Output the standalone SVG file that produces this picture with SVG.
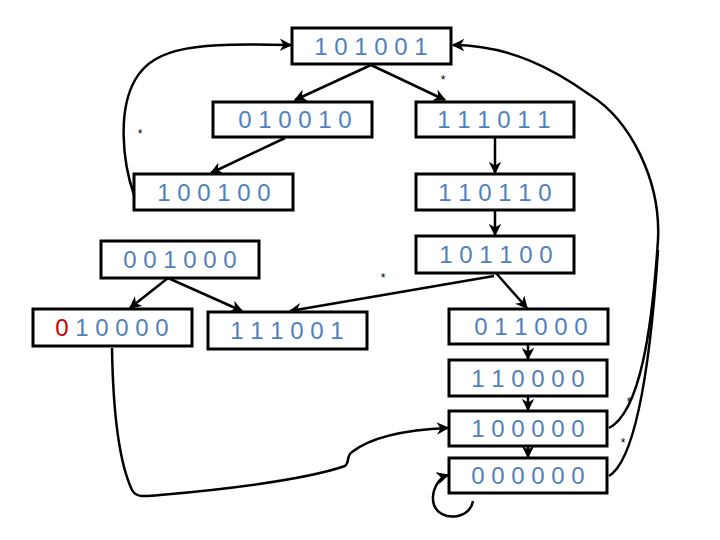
<svg xmlns="http://www.w3.org/2000/svg" width="720" height="540" viewBox="0 0 720 540">
<style>
.box{fill:#fff;stroke:#000;stroke-width:3}
.t{font-family:"Liberation Sans",Arial,sans-serif;font-size:24px;fill:#4F81BD;text-anchor:middle}
.e{fill:none;stroke:#000;stroke-width:2.5}
.s{font-family:"Liberation Sans",Arial,sans-serif;font-size:12px;fill:#000;text-anchor:middle}
</style>
<defs>
<marker id="a" viewBox="0 0 10 10" refX="9" refY="5" markerWidth="5" markerHeight="5" orient="auto" markerUnits="strokeWidth">
<path d="M0,0 L10,5 L0,10 L3,5 Z" fill="#000"/>
</marker>
</defs>
<rect width="720" height="540" fill="#fff"/>
<g id="connectors">
<path class="e" marker-end="url(#a)" d="M371,65 L295,100"/>
<path class="e" marker-end="url(#a)" d="M371,65 L445,100"/>
<path class="e" marker-end="url(#a)" d="M285,138 L211,173"/>
<path class="e" marker-end="url(#a)" d="M134,195 C122,160 118,110 135,80 C155,45 200,43 291,45"/>
<path class="e" marker-end="url(#a)" d="M495,137 L495,173"/>
<path class="e" marker-end="url(#a)" d="M495,210 L495,235"/>
<path class="e" marker-end="url(#a)" d="M496,273 L527,308"/>
<path class="e" marker-end="url(#a)" d="M494,276 L290,311"/>
<path class="e" marker-end="url(#a)" d="M168,278 L130,308"/>
<path class="e" marker-end="url(#a)" d="M168,278 L242,311"/>
<path class="e" marker-end="url(#a)" d="M528,344 L528,359"/>
<path class="e" marker-end="url(#a)" d="M528,396 L528,410"/>
<path class="e" marker-end="url(#a)" d="M528,446 L528,457"/>
<path class="e" marker-end="url(#a)" d="M112,348 C113,410 118,460 132,490 C136,497 142,497 160,495 C250,487 310,478 345,466 C350,462 346,456 352,452 C370,438 400,430 448,428"/>
<path class="e" marker-end="url(#a)" d="M473,501 C470,520 440,522 434,505 C430,492 438,478 448,475"/>
<path class="e" marker-end="url(#a)" d="M609,428 C640,412 652,330 658,240 C661,180 630,120 590,95 C555,70 510,45 453,45"/>
<path class="e" d="M609,476 C635,460 650,370 658,250"/>
</g>
<g id="n101001"><rect class="box" x="292" y="28" width="159" height="36"/><text class="t" x="371" y="55">1 0 1 0 0 1</text></g>
<g id="n010010"><rect class="box" x="213" y="102" width="159" height="35"/><text class="t" x="295" y="128">0 1 0 0 1 0</text></g>
<g id="n111011"><rect class="box" x="416" y="102" width="158" height="35"/><text class="t" x="494" y="128">1 1 1 0 1 1</text></g>
<g id="n100100"><rect class="box" x="134" y="174" width="159" height="36"/><text class="t" x="214" y="201">1 0 0 1 0 0</text></g>
<g id="n110110"><rect class="box" x="416" y="174" width="158" height="36"/><text class="t" x="495" y="201">1 1 0 1 1 0</text></g>
<g id="n001000"><rect class="box" x="101" y="241" width="158" height="37"/><text class="t" x="180" y="268">0 0 1 0 0 0</text></g>
<g id="n101100"><rect class="box" x="416" y="236" width="158" height="37"/><text class="t" x="496" y="263">1 0 1 1 0 0</text></g>
<g id="n010000"><rect class="box" x="33" y="309" width="159" height="37"/><text class="t" x="112" y="336"><tspan fill="#C00000">0</tspan> 1 0 0 0 0</text></g>
<g id="n111001"><rect class="box" x="208" y="312" width="159" height="37"/><text class="t" x="287" y="339">1 1 1 0 0 1</text></g>
<g id="n011000"><rect class="box" x="449" y="309" width="159" height="35"/><text class="t" x="531" y="335">0 1 1 0 0 0</text></g>
<g id="n110000"><rect class="box" x="449" y="360" width="158" height="36"/><text class="t" x="528" y="387">1 1 0 0 0 0</text></g>
<g id="n100000"><rect class="box" x="449" y="411" width="158" height="35"/><text class="t" x="528" y="437">1 0 0 0 0 0</text></g>
<g id="n000000"><rect class="box" x="449" y="458" width="158" height="35"/><text class="t" x="528" y="484">0 0 0 0 0 0</text></g>
<g id="labels">
<text class="s" x="443" y="84">*</text>
<text class="s" x="140" y="138">*</text>
<text class="s" x="383" y="282">*</text>
<text class="s" x="629" y="406">*</text>
<text class="s" x="623" y="447">*</text>
</g>
</svg>
